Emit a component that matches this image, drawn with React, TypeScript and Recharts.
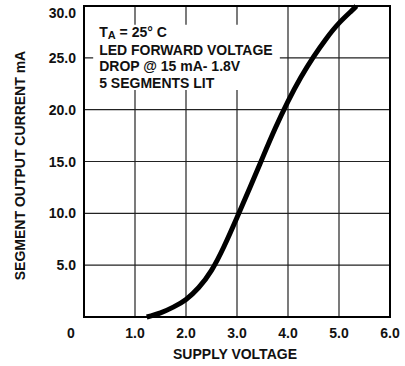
import React from "react";
import {
  LineChart,
  Line,
  XAxis,
  YAxis,
  CartesianGrid,
  ReferenceArea,
  Label,
} from "recharts";

// supply voltage (V) vs segment output current (mA)
const supplyVoltage = [1.23, 1.5, 1.75, 2.0, 2.25, 2.5, 2.75, 3.0, 3.25, 3.5, 3.75, 4.0, 4.25, 4.5, 4.75, 5.0, 5.25, 5.34];
const outputCurrent = [0, 0.4, 0.95, 1.7, 2.85, 4.5, 6.85, 9.6, 12.45, 15.35, 18.2, 20.8, 23.1, 25.1, 26.85, 28.35, 29.55, 30.0];

const xTicks = [0, 1, 2, 3, 4, 5, 6];
const yTicks = [0, 5, 10, 15, 20, 25, 30];

const noteLines = ["LED FORWARD VOLTAGE", "DROP @ 15 mA- 1.8V", "5 SEGMENTS LIT"];

const data = supplyVoltage.map((v, i) => ({ v, mA: outputCurrent[i] }));

const FONT = "'Liberation Sans', Arial, Helvetica, sans-serif";
const INK = "#111";

const XTick = (props: any) => {
  const { x, y, payload } = props;
  const isZero = payload.value === 0;
  return (
    <text
      x={isZero ? x - 13 : x}
      y={y}
      dy={13}
      textAnchor="middle"
      fontFamily={FONT}
      fontWeight="bold"
      fontSize={14}
      fill={INK}
    >
      {isZero ? "0" : payload.value.toFixed(1)}
    </text>
  );
};

const YTick = (props: any) => {
  const { x, y, payload } = props;
  if (payload.value === 0) return null;
  return (
    <text
      x={x}
      y={payload.value === 30 ? y + 4 : y}
      dy={5}
      textAnchor="end"
      fontFamily={FONT}
      fontWeight="bold"
      fontSize={14}
      fill={INK}
    >
      {payload.value.toFixed(1)}
    </text>
  );
};

const NoteText = (props: any) => {
  const { x, y } = props.viewBox;
  return (
    <text fontFamily={FONT} fontWeight="bold" fontSize={14} fill={INK}>
      <tspan x={x + 6} y={y + 12.5}>
        T
        <tspan fontSize={11} dy={2}>A</tspan>
        <tspan dy={-2}> = 25° C</tspan>
      </tspan>
      {noteLines.map((line, i) => (
        <tspan key={line} x={x + 6} y={y + 30 + i * 16.5}>
          {line}
        </tspan>
      ))}
    </text>
  );
};

const YTitle = (props: any) => {
  const { y, height } = props.viewBox;
  const cy = y + height / 2 + 4;
  return (
    <text
      x={20}
      y={cy}
      transform={`rotate(-90, 20, ${cy})`}
      textAnchor="middle"
      dominantBaseline="central"
      fontFamily={FONT}
      fontWeight="bold"
      fontSize={14}
      fill={INK}
    >
      SEGMENT OUTPUT CURRENT mA
    </text>
  );
};

const XTitle = (props: any) => {
  const { x, width, y } = props.viewBox;
  return (
    <text
      x={x + width / 2 - 2}
      y={y + 42}
      textAnchor="middle"
      fontFamily={FONT}
      fontWeight="bold"
      fontSize={14}
      fill={INK}
    >
      SUPPLY VOLTAGE
    </text>
  );
};

const App = () => {
  return (
    <div style={{ position: "absolute", left: 0, top: 0, background: "#fff" }}>
      <LineChart
        width={405}
        height={366}
        data={data}
        margin={{ top: 6, right: 15, bottom: 0, left: 0 }}
      >
        <CartesianGrid stroke="#222" strokeWidth={1.2} />
        <XAxis
          type="number"
          dataKey="v"
          domain={[0, 6]}
          ticks={xTicks}
          height={49}
          axisLine={{ stroke: "#000", strokeWidth: 2 }}
          tickLine={false}
          tick={<XTick />}
        >
          <Label content={<XTitle />} />
        </XAxis>
        <YAxis
          type="number"
          domain={[0, 30]}
          ticks={yTicks}
          width={84}
          axisLine={{ stroke: "#000", strokeWidth: 2 }}
          tickLine={false}
          tick={<YTick />}
        >
          <Label content={<YTitle />} />
        </YAxis>
        <ReferenceArea
          x1={0.18}
          x2={3.84}
          y1={21.9}
          y2={28.2}
          fill="#fff"
          fillOpacity={1}
          stroke="none"
          label={<NoteText />}
        />
        <ReferenceArea
          x1={0}
          x2={6}
          y1={0}
          y2={30}
          fill="none"
          stroke="#000"
          strokeWidth={2}
        />
        <Line
          type="natural"
          dataKey="mA"
          stroke="#000"
          strokeWidth={5}
          dot={false}
          isAnimationActive={false}
        />
      </LineChart>
    </div>
  );
};

export default App;
